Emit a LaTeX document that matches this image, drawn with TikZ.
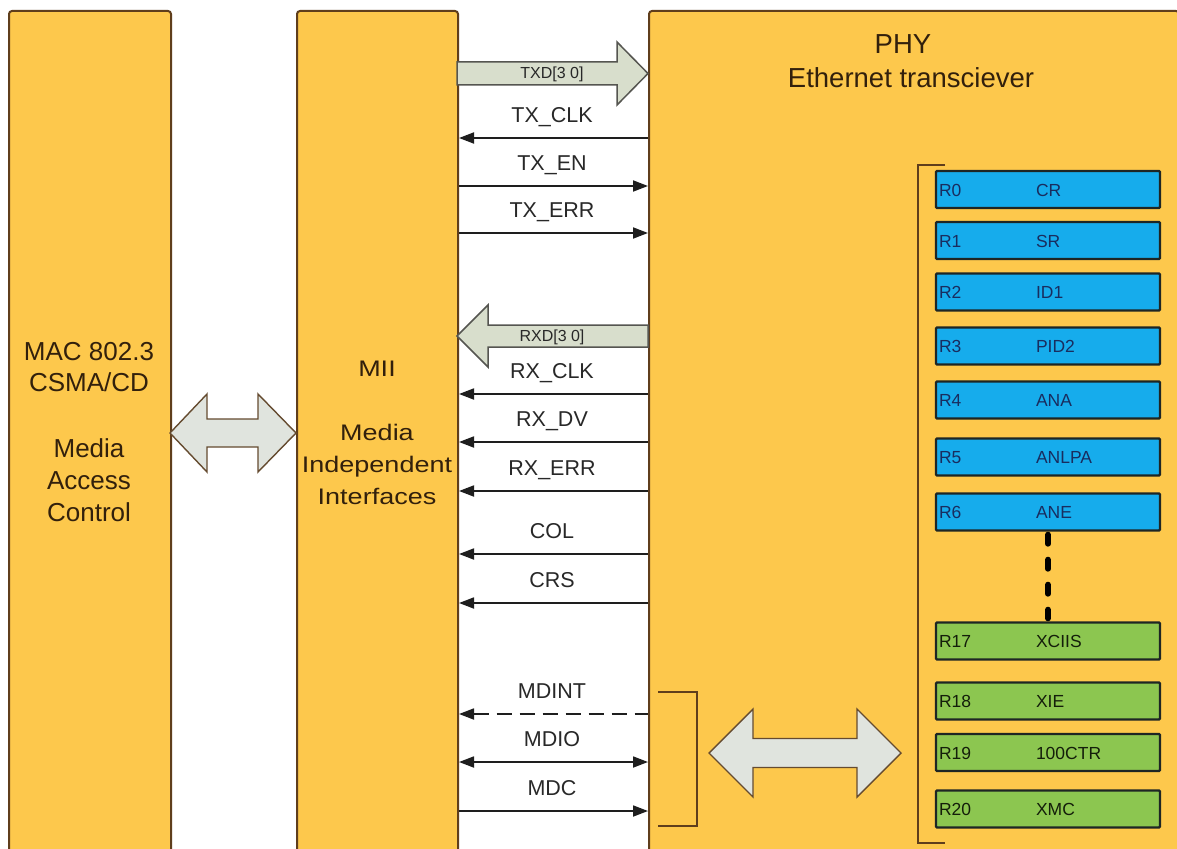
\documentclass[tikz,border=0pt]{standalone}
\usepackage{fontspec}
\setmainfont{Liberation Sans}
\newfontfamily\widesans{Liberation Sans}[FakeStretch=1.2]
\usetikzlibrary{arrows.meta}

\definecolor{boxfill}{RGB}{253,200,76}
\definecolor{edge}{RGB}{95,62,28}
\definecolor{sigcol}{RGB}{30,30,30}
\definecolor{labcol}{RGB}{40,40,40}
\definecolor{titlecol}{RGB}{50,32,12}
\definecolor{busfill}{RGB}{216,222,204}
\definecolor{busedge}{RGB}{85,85,80}
\definecolor{linkfill}{RGB}{224,228,222}
\definecolor{regblue}{RGB}{22,172,236}
\definecolor{reggreen}{RGB}{140,198,80}
\definecolor{regedge}{RGB}{30,38,36}
\definecolor{bluetext}{RGB}{25,45,95}
\definecolor{greentext}{RGB}{20,30,10}

\tikzset{
  blk/.style={draw=edge, fill=boxfill, line width=2pt, rounded corners=3pt,
    inner sep=0pt, anchor=north west},
  sig/.style={draw=sigcol, line width=1.8pt},
  lab/.style={anchor=base, text=labcol, inner sep=0pt,
    font=\fontsize{21.5}{26}\selectfont},
  buslab/.style={anchor=base, text=labcol, inner sep=0pt,
    font=\fontsize{16}{19}\selectfont},
  mactext/.style={anchor=base, text=titlecol, inner sep=0pt,
    font=\fontsize{26}{31}\selectfont},
  miitext/.style={anchor=base, text=titlecol, inner sep=0pt,
    font=\widesans\fontsize{22.5}{27}\selectfont},
  phytext/.style={anchor=base, text=titlecol, inner sep=0pt,
    font=\fontsize{27.5}{33}\selectfont},
  busarrow/.style={fill=busfill, draw=busedge, line width=1.5pt, line join=miter},
  linkarrow/.style={fill=linkfill, draw=edge!80!gray, line width=1.4pt, line join=miter},
  bracket/.style={draw=edge, line width=2pt},
  reg/.style={draw=regedge, line width=2.4pt, minimum width=224pt,
    minimum height=37pt, inner sep=0pt, rounded corners=1pt},
  reglab/.style={anchor=base west, inner sep=0pt,
    font=\fontsize{17.5}{21}\selectfont},
  >={Triangle[length=15pt,width=11pt]}
}

\begin{document}
\begin{tikzpicture}[x=1pt,y=-1pt]
  \useasboundingbox (0,0) rectangle (1177,848);
  \clip (0,0) rectangle (1177,848);
  \fill[white] (0,0) rectangle (1177,848);

  % the three functional blocks
  \node[blk, minimum width=162pt, minimum height=880pt] (mac) at (8,10) {};
  \node[blk, minimum width=161pt, minimum height=880pt] (mii) at (296,10) {};
  \node[blk, minimum width=530pt, minimum height=880pt] (phy) at (648,10) {};

  % MAC text
  \node[mactext] (mac1) at (89,360) {MAC 802.3};
  \node[mactext] (mac2) at (89,391) {CSMA/CD};
  \node[mactext] (mac3) at (89,457) {Media};
  \node[mactext] (mac4) at (89,489) {Access};
  \node[mactext] (mac5) at (89,521) {Control};

  % MII text
  \node[miitext] (mii1) at (377,376) {MII};
  \node[miitext] (mii2) at (377,440) {Media};
  \node[miitext] (mii3) at (377,472) {Independent};
  \node[miitext] (mii4) at (377,504) {Interfaces};

  % PHY title
  \node[phytext] (phy1) at (903,54) {PHY};
  \node[phytext] (phy2) at (911,88) {Ethernet transciever};

  % MAC <-> MII link
  \draw[linkarrow] (170,433) -- (207,394) -- (207,419) -- (258,419) -- (258,394)
    -- (296,433) -- (258,472) -- (258,447) -- (207,447) -- (207,472) -- cycle;

  % transmit data bus
  \draw[busarrow] (457,62) -- (617,62) -- (617,42) -- (648,73.5) -- (617,105)
    -- (617,85) -- (457,85) -- cycle;
  \node[buslab] (txd) at (552,79) {TXD[3 0]};

  % receive data bus
  \draw[busarrow] (648,325) -- (488,325) -- (488,305) -- (457,336) -- (488,367)
    -- (488,347) -- (648,347) -- cycle;
  \node[buslab] (rxd) at (552,341) {RXD[3 0]};

  % single signals
  \draw[sig,<-] (mii.east |- 0,138) -- (phy.west |- 0,138);
  \node[lab] (txclk) at (552,122) {TX\_CLK};
  \draw[sig,->] (mii.east |- 0,186) -- (phy.west |- 0,186);
  \node[lab] (txen) at (552,170) {TX\_EN};
  \draw[sig,->] (mii.east |- 0,233) -- (phy.west |- 0,233);
  \node[lab] (txerr) at (552,217) {TX\_ERR};

  \draw[sig,<-] (mii.east |- 0,394) -- (phy.west |- 0,394);
  \node[lab] (rxclk) at (552,378) {RX\_CLK};
  \draw[sig,<-] (mii.east |- 0,442) -- (phy.west |- 0,442);
  \node[lab] (rxdv) at (552,426) {RX\_DV};
  \draw[sig,<-] (mii.east |- 0,491) -- (phy.west |- 0,491);
  \node[lab] (rxerr) at (552,475) {RX\_ERR};
  \draw[sig,<-] (mii.east |- 0,554) -- (phy.west |- 0,554);
  \node[lab] (col) at (552,538) {COL};
  \draw[sig,<-] (mii.east |- 0,603) -- (phy.west |- 0,603);
  \node[lab] (crs) at (552,587) {CRS};

  % management interface
  \draw[sig,<-,dash pattern=on 15pt off 8pt] (mii.east |- 0,714) -- (phy.west |- 0,714);
  \node[lab] (mdint) at (552,698) {MDINT};
  \draw[sig,<->] (mii.east |- 0,762) -- (phy.west |- 0,762);
  \node[lab] (mdio) at (552,746) {MDIO};
  \draw[sig,->] (mii.east |- 0,811) -- (phy.west |- 0,811);
  \node[lab] (mdc) at (552,795) {MDC};

  \draw[bracket] (658,692) -- (697,692) -- (697,826) -- (658,826);

  % management link to the register file
  \draw[linkarrow] (709,753) -- (753,709) -- (753,738.5) -- (857,738.5) -- (857,709)
    -- (901,753) -- (857,797) -- (857,767.5) -- (753,767.5) -- (753,797) -- cycle;

  % register file
  \draw[bracket] (945,165) -- (918,165) -- (918,843) -- (945,843);

  \foreach \n/\y/\a/\b/\c/\t in {
      r0/189.5/R0/CR/regblue/bluetext,
      r1/240.5/R1/SR/regblue/bluetext,
      r2/292/R2/ID1/regblue/bluetext,
      r3/346/R3/PID2/regblue/bluetext,
      r4/400/R4/ANA/regblue/bluetext,
      r5/457/R5/ANLPA/regblue/bluetext,
      r6/512/R6/ANE/regblue/bluetext,
      r17/641/R17/XCIIS/reggreen/greentext,
      r18/701/R18/XIE/reggreen/greentext,
      r19/752.5/R19/100CTR/reggreen/greentext,
      r20/809/R20/XMC/reggreen/greentext} {
    \node[reg, fill=\c] (\n) at (1048,\y) {};
    \node[reglab, text=\t] (\n n) at ([xshift=4pt,yshift=-6.5pt]\n.west) {\a};
    \node[reglab, text=\t] (\n d) at ([xshift=101pt,yshift=-6.5pt]\n.west) {\b};
  }

  \draw[draw=black, line width=6pt, line cap=round, dash pattern=on 9pt off 16pt]
    ([yshift=-3pt]r6.south) -- ([yshift=3pt]r17.north);
\end{tikzpicture}
\end{document}
